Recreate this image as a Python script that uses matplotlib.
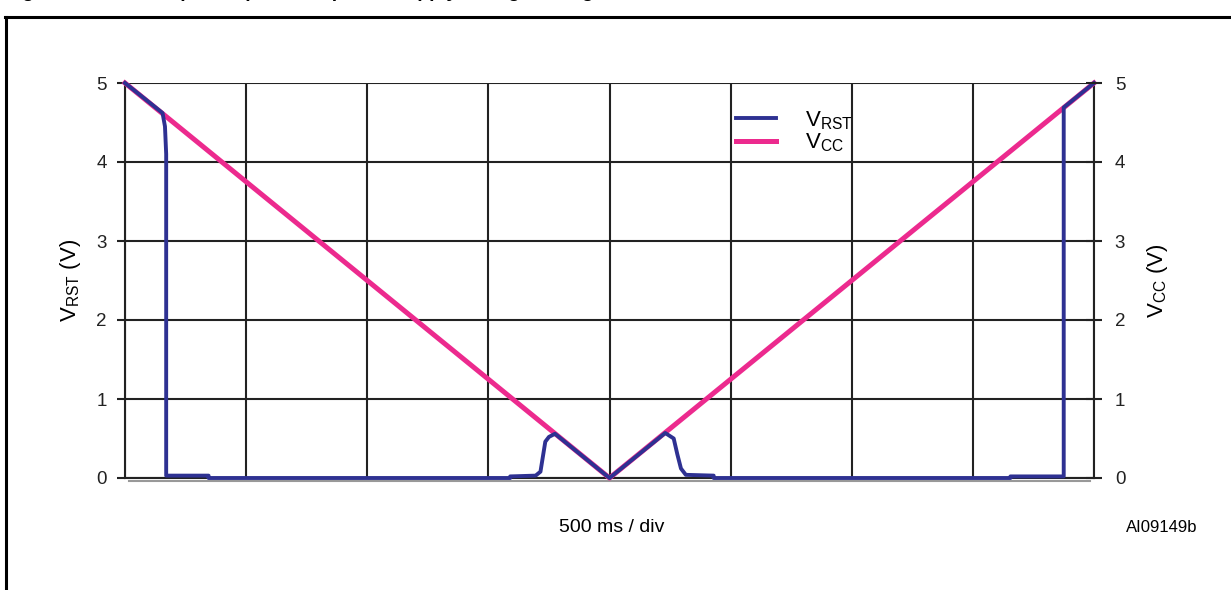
import matplotlib.pyplot as plt
from matplotlib.lines import Line2D

plt.rcParams['font.family'] = ['Liberation Sans', 'DejaVu Sans']
plt.rcParams['mathtext.fontset'] = 'custom'
plt.rcParams['mathtext.rm'] = 'Liberation Sans'

# time axis in divisions (500 ms / div)
t_vcc = [0, 4, 8]
vcc = [5.0, 0.0, 5.0]

t_rst = [0, 0.31, 0.33, 0.34, 0.34, 0.69, 0.69, 3.18, 3.18, 3.39, 3.43, 3.45,
         3.47, 3.50, 3.55, 4.0, 4.46, 4.53, 4.56, 4.59, 4.63, 4.86, 4.86,
         7.31, 7.31, 7.75, 7.75, 8.0]
v_rst = [5.0, 4.62, 4.45, 4.1, 0.03, 0.03, 0.0, 0.0, 0.02, 0.03, 0.08, 0.27,
         0.46, 0.52, 0.56, 0.0, 0.57, 0.5, 0.3, 0.12, 0.04, 0.03, 0.0,
         0.0, 0.02, 0.02, 4.69, 5.0]

y_ticks = [0, 1, 2, 3, 4, 5]

navy = '#2E3192'
pink = '#EC2A8E'

fig = plt.figure(figsize=(12.31, 5.90), dpi=100)
ax = fig.add_axes([125 / 1231, 1 - 478 / 590, (1094 - 125) / 1231, (478 - 83) / 590])

ax.set_xlim(0, 8)
ax.set_ylim(0, 5)
ax.set_xticks(range(9))
ax.set_xticklabels([])
ax.tick_params(axis='x', length=0)
ax.set_yticks(y_ticks)
ax.tick_params(axis='y', direction='out', length=6, width=1.5, labelsize=13.5, pad=7, colors='#222222')
ax.grid(True, color='#222222', linewidth=1.5)
ax.set_axisbelow(True)
for s in ax.spines.values():
    s.set_color('#222222')
    s.set_linewidth(1.5)
ax.spines['top'].set_visible(False)

ax.plot(t_vcc, vcc, color=pink, linewidth=3.6, clip_on=False, zorder=3, label='V$_{\\mathregular{CC}}$')
ax.plot(t_rst, v_rst, color=navy, linewidth=2.8, clip_on=False, zorder=4, label='V$_{\\mathregular{RST}}$')
# second baseline under the axis
ax.plot([0.03, 7.97], [-0.04, -0.04], color='#999999', linewidth=1.5, clip_on=False)

ax2 = ax.twinx()
ax2.set_ylim(0, 5)
ax2.set_yticks(y_ticks)
ax2.tick_params(axis='y', direction='inout', length=12, width=1.5, labelsize=13.5, pad=9, colors='#222222')
for s in ax2.spines.values():
    s.set_visible(False)

ax.set_ylabel('V$_{\\mathregular{RST}}$ (V)', fontsize=16, labelpad=10)
ax2.set_ylabel('V$_{\\mathregular{CC}}$ (V)', fontsize=16, labelpad=14, rotation=90)

h, l = ax.get_legend_handles_labels()
ax.legend(h[::-1], l[::-1], loc='upper left', bbox_to_anchor=(0.61, 0.985), frameon=False,
          fontsize=16, handlelength=1.8, labelspacing=0.0, handletextpad=1.3)

fig.text(612 / 1231, 1 - 527 / 590, '500 ms / div', ha='center', va='center', fontsize=14)
fig.text(1162 / 1231, 1 - 527 / 590, 'AI09149b', ha='center', va='center', fontsize=12)
# caption is cut by the top edge, as in the reference
fig.text(5 / 1231, 1 + 3 / 590, 'Figure 8. Reset output response to power supply voltage change',
         ha='left', va='baseline', fontsize=14, fontweight='bold')

fig.add_artist(Line2D([5 / 1231, 1], [1 - 17 / 590, 1 - 17 / 590], color='black', linewidth=2.2))
fig.add_artist(Line2D([6 / 1231, 6 / 1231], [0, 1 - 17 / 590], color='black', linewidth=2.2))

fig.savefig('out.png', dpi=100)
